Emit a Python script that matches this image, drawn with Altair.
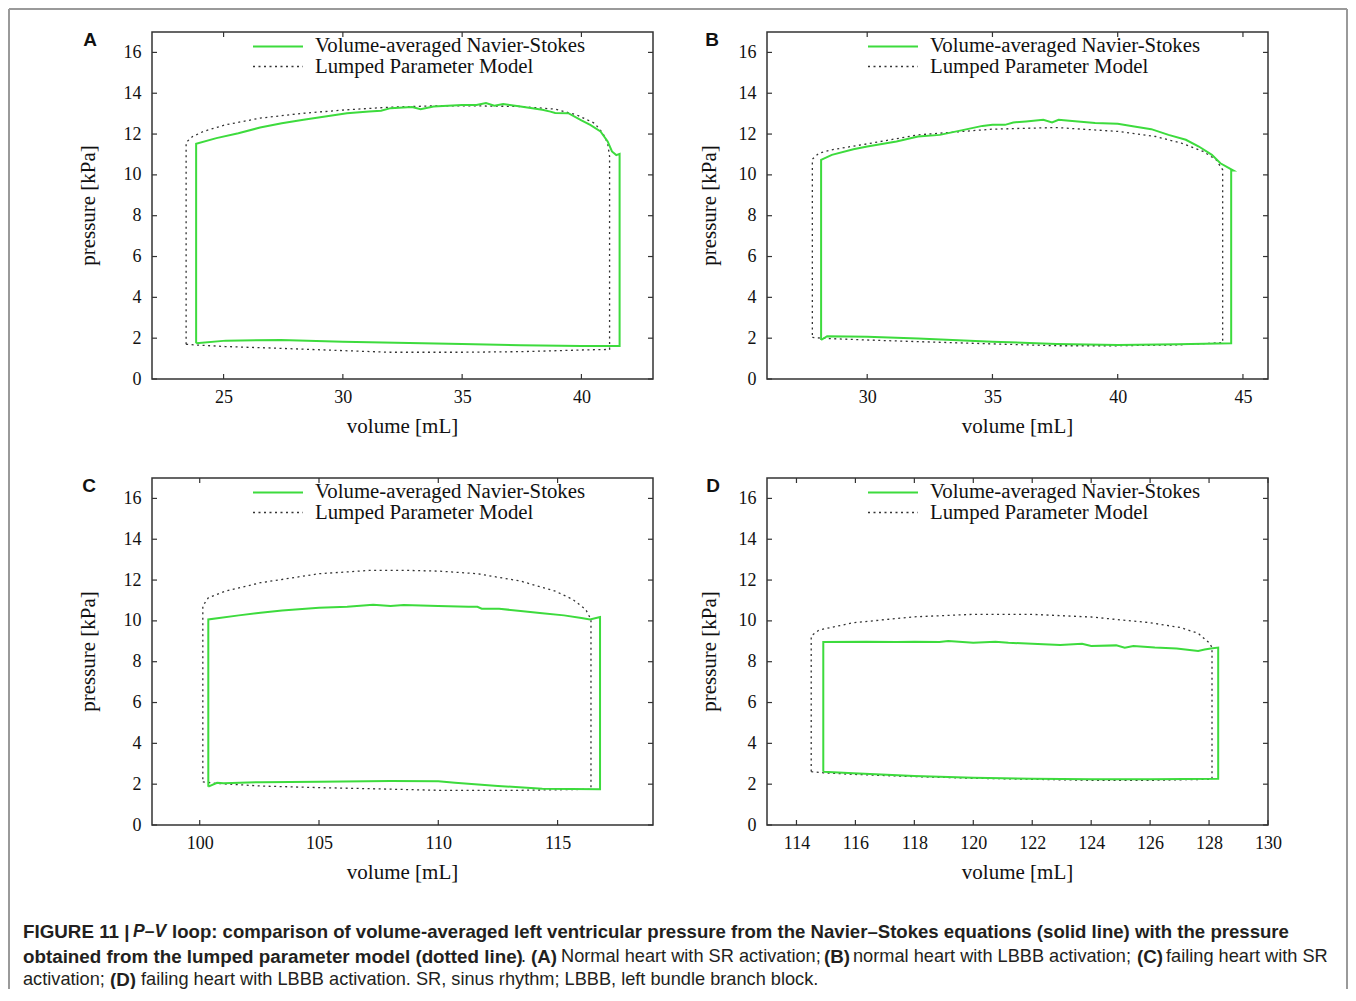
import altair as alt
import pandas as pd

# ---------------- data ----------------
Y_TICKS = [0, 2, 4, 6, 8, 10, 12, 14, 16]
LEGEND_LABELS = ["Volume-averaged Navier-Stokes", "Lumped Parameter Model"]
X_TITLE = "volume [mL]"
Y_TITLE = "pressure [kPa]"

# Panel A: normal heart, SR activation
A_NS_V = [23.85, 25.1, 27.4, 30.0, 35.0, 37.45, 40.0, 41.6, 41.6, 41.46, 41.28, 41.1, 40.8, 40.37, 40.0, 39.45,
          38.9, 38.7, 38.36, 37.45, 36.72, 36.35, 36.0, 35.6, 35.0, 33.8, 33.26, 32.9, 32.0, 31.6, 31.1, 30.17,
          29.26, 28.35, 27.44, 26.53, 25.62, 24.7, 23.85, 23.85]
A_NS_P = [1.75, 1.88, 1.91, 1.83, 1.72, 1.65, 1.62, 1.62, 11.03, 10.97, 11.15, 11.64, 12.13, 12.45, 12.67, 13.02,
          13.03, 13.1, 13.19, 13.35, 13.47, 13.39, 13.52, 13.42, 13.42, 13.35, 13.22, 13.32, 13.27, 13.14, 13.1, 13.02,
          12.86, 12.7, 12.53, 12.32, 12.04, 11.8, 11.52, 1.75]
A_LP_V = [23.43, 23.8, 25.07, 27.44, 30.0, 32.0, 35.0, 37.45, 40.0, 41.18, 41.18, 41.1, 40.9, 40.55, 39.8, 38.9,
          37.45, 35.6, 33.8, 32.0, 30.17, 28.35, 26.53, 25.07, 24.16, 23.7, 23.43, 23.43]
A_LP_P = [1.70, 1.67, 1.59, 1.50, 1.39, 1.31, 1.31, 1.34, 1.42, 1.45, 10.9, 11.55, 12.04, 12.53, 12.94, 13.22,
          13.35, 13.38, 13.38, 13.32, 13.19, 13.02, 12.78, 12.45, 12.13, 11.88, 11.59, 1.70]

# Panel B: normal heart, LBBB activation
B_NS_V = [28.16, 28.4, 30.0, 32.03, 35.0, 37.55, 40.0, 42.38, 44.53, 44.53, 44.62, 44.1, 43.76, 43.24, 42.72, 42.03,
          41.34, 40.66, 40.0, 39.1, 38.07, 37.64, 37.38, 37.03, 36.34, 35.83, 35.5, 35.0, 34.6, 33.76, 32.9, 32.03,
          31.17, 30.0, 29.45, 28.59, 28.16, 28.16]
B_NS_P = [1.91, 2.1, 2.07, 1.99, 1.83, 1.72, 1.67, 1.70, 1.75, 10.21, 10.21, 10.57, 10.98, 11.39, 11.72, 11.96,
          12.24, 12.37, 12.5, 12.54, 12.65, 12.7, 12.57, 12.7, 12.62, 12.57, 12.45, 12.45, 12.4, 12.18, 11.96, 11.88,
          11.64, 11.39, 11.26, 10.98, 10.74, 1.91]
B_LP_V = [27.81, 28.3, 30.0, 32.03, 35.0, 37.55, 40.0, 42.38, 44.19, 44.19, 43.93, 43.41, 42.55, 41.52, 40.0, 37.55,
          35.0, 32.03, 30.0, 28.59, 28.07, 27.81, 27.81]
B_LP_P = [2.04, 1.99, 1.91, 1.83, 1.72, 1.63, 1.63, 1.67, 1.78, 10.25, 10.74, 11.15, 11.55, 11.88, 12.13, 12.32,
          12.24, 11.96, 11.52, 11.23, 11.06, 10.77, 2.04]

# Panel C: failing heart, SR activation
C_NS_V = [100.36, 100.73, 101.0, 102.55, 105.0, 108.0, 110.0, 110.7, 112.5, 114.36, 116.78, 116.78, 116.36, 116.0,
          115.27, 114.36, 113.45, 112.55, 111.82, 111.64, 111.27, 110.0, 108.55, 108.0, 107.27, 106.18, 105.0, 103.45,
          102.55, 101.64, 100.36, 100.36]
C_NS_P = [1.88, 2.07, 2.04, 2.1, 2.12, 2.16, 2.14, 2.07, 1.91, 1.78, 1.75, 10.19, 10.07, 10.14, 10.27, 10.37, 10.48,
          10.6, 10.6, 10.69, 10.69, 10.73, 10.78, 10.73, 10.79, 10.69, 10.64, 10.51, 10.4, 10.27, 10.07, 1.88]
C_LP_V = [100.13, 100.7, 102.55, 105.0, 107.1, 110.0, 113.45, 116.4, 116.4, 116.18, 115.64, 114.9, 113.45, 111.64,
          110.0, 108.9, 107.1, 105.0, 102.55, 101.09, 100.36, 100.13, 100.13]
C_LP_P = [2.11, 2.04, 1.91, 1.83, 1.78, 1.70, 1.70, 1.75, 10.07, 10.56, 11.05, 11.46, 11.95, 12.31, 12.44, 12.47,
          12.47, 12.31, 11.87, 11.46, 11.13, 10.73, 2.11]

# Panel D: failing heart, LBBB activation
D_NS_V = [114.91, 115.93, 118.0, 120.0, 122.0, 124.0, 126.0, 128.31, 128.31, 128.06, 127.85, 127.63, 127.34, 126.9,
          126.16, 125.43, 125.14, 124.85, 124.0, 123.69, 122.95, 122.0, 121.19, 120.75, 120.0, 119.15, 118.85, 118.0,
          117.39, 116.37, 114.91, 114.91]
D_NS_P = [2.61, 2.53, 2.4, 2.32, 2.27, 2.24, 2.24, 2.27, 8.69, 8.65, 8.6, 8.52, 8.57, 8.65, 8.69, 8.77, 8.69, 8.8,
          8.77, 8.88, 8.82, 8.88, 8.93, 8.98, 8.93, 9.01, 8.96, 8.98, 8.96, 8.98, 8.96, 2.61]
D_LP_V = [114.5, 114.91, 115.93, 118.0, 120.0, 122.0, 124.0, 126.0, 128.1, 128.1, 128.0, 127.63, 127.04, 126.0,
          124.0, 122.0, 120.0, 118.0, 115.93, 114.76, 114.5, 114.5]
D_LP_P = [2.61, 2.56, 2.48, 2.37, 2.29, 2.24, 2.19, 2.19, 2.24, 8.7, 8.93, 9.39, 9.67, 9.91, 10.19, 10.32, 10.32,
          10.2, 9.91, 9.55, 9.26, 2.61]

X_DOMAINS = {"A": [22, 43], "B": [26, 46], "C": [98, 119], "D": [113, 130]}
X_TICKS = {"A": [25, 30, 35, 40], "B": [30, 35, 40, 45], "C": [100, 105, 110, 115],
           "D": [114, 116, 118, 120, 122, 124, 126, 128, 130]}

CAPTION = [
    # (line, segment text, weight, style)
    (0, "FIGURE 11 |", "bold", "normal"),
    (0, "P–V", "bold", "italic"),
    (0, "loop: comparison of volume-averaged left ventricular pressure from the Navier–Stokes equations (solid line) with the pressure", "bold", "normal"),
    (1, "obtained from the lumped parameter model (dotted line)", "bold", "normal"),
    (1, ".", "normal", "normal"),
    (1, "(A)", "bold", "normal"),
    (1, "Normal heart with SR activation;", "normal", "normal"),
    (1, "(B)", "bold", "normal"),
    (1, "normal heart with LBBB activation;", "normal", "normal"),
    (1, "(C)", "bold", "normal"),
    (1, "failing heart with SR", "normal", "normal"),
    (2, "activation;", "normal", "normal"),
    (2, "(D)", "bold", "normal"),
    (2, "failing heart with LBBB activation. SR, sinus rhythm; LBBB, left bundle branch block.", "normal", "normal"),
]
# page x where each caption segment starts
CAPTION_X = [23, 133, 172, 23, 521, 531, 561, 824, 853, 1137, 1166, 23, 110, 141]
CAPTION_SIZE = [18.8, 17.5, 18.6, 18.8, 18.2, 18.8, 18.2, 18.8, 18.2, 18.8, 18.2, 18.2, 18.8, 18.2]

# ---------------- style ----------------
W, H = 501, 347
GREEN = "#3ddb3d"
DOT = "#333333"
SERIF = "Liberation Serif"
SANS = "Liberation Sans"
ONE = pd.DataFrame({"k": [0]})


def txt(text, x, y, **kw):
    return alt.Chart(ONE).mark_text(**kw).encode(x=alt.value(x), y=alt.value(y), text=alt.value(text))


def rule(x, x2, y, y2, **kw):
    return alt.Chart(ONE).mark_rule(**kw).encode(x=alt.value(x), x2=alt.value(x2), y=alt.value(y), y2=alt.value(y2))


def panel(key, ns_v, ns_p, lp_v, lp_p, title_dx, label_dx, extra=()):
    ns = pd.DataFrame({"v": ns_v, "p": ns_p, "i": list(range(len(ns_v)))})
    lp = pd.DataFrame({"v": lp_v, "p": lp_p, "i": list(range(len(lp_v)))})
    xs = alt.Scale(domain=X_DOMAINS[key], nice=False, zero=False)
    ys = alt.Scale(domain=[0, 17], nice=False)
    xaxis = alt.Axis(values=X_TICKS[key], ticks=False, domain=False, grid=False, title=None,
                     labelFont=SERIF, labelFontSize=18, labelColor="#111", labelPadding=9,
                     labelFlush=False, format="d")
    yaxis = alt.Axis(values=Y_TICKS, ticks=False, domain=False, grid=False, title=None,
                     labelFont=SERIF, labelFontSize=18, labelColor="#111", labelPadding=11,
                     labelFlush=False, format="d")
    lp_line = alt.Chart(lp).mark_line(color=DOT, strokeWidth=1.3, strokeDash=[2, 3.5]).encode(
        x=alt.X("v:Q", scale=xs, axis=xaxis), y=alt.Y("p:Q", scale=ys, axis=yaxis), order="i:Q")
    ns_line = alt.Chart(ns).mark_line(color=GREEN, strokeWidth=2).encode(
        x="v:Q", y="p:Q", order="i:Q")

    xt = pd.DataFrame({"v": X_TICKS[key]})
    yt = pd.DataFrame({"p": Y_TICKS})
    tk = dict(color="#333", strokeWidth=1.2)
    ticks = [
        alt.Chart(xt).mark_rule(**tk).encode(x="v:Q", y=alt.value(0), y2=alt.value(5)),
        alt.Chart(xt).mark_rule(**tk).encode(x="v:Q", y=alt.value(H - 5), y2=alt.value(H)),
        alt.Chart(yt).mark_rule(**tk).encode(y="p:Q", x=alt.value(0), x2=alt.value(5)),
        alt.Chart(yt).mark_rule(**tk).encode(y="p:Q", x=alt.value(W - 5), x2=alt.value(W)),
    ]
    legend = [
        rule(101, 151, 14.5, 14.5, color=GREEN, strokeWidth=2),
        rule(101, 151, 34.5, 34.5, color=DOT, strokeWidth=1.3, strokeDash=[2, 3.5]),
        txt(LEGEND_LABELS[0], 163, 14, align="left", baseline="middle", font=SERIF, fontSize=20.8, color="#111"),
        txt(LEGEND_LABELS[1], 163, 35, align="left", baseline="middle", font=SERIF, fontSize=20.8, color="#111"),
    ]
    titles = [
        txt(Y_TITLE, title_dx, H / 2, angle=270, align="center", baseline="middle", font=SERIF,
            fontSize=21, color="#111"),
        txt(X_TITLE, W / 2, 395, align="center", baseline="middle", font=SERIF, fontSize=21, color="#111"),
        txt(key, label_dx, 8, align="center", baseline="middle", font=SANS, fontSize=19,
            fontWeight="bold", color="#111"),
    ]
    return alt.layer(lp_line, ns_line, *ticks, *legend, *titles, *extra).properties(width=W, height=H)


# page geometry: svg starts at page (8, 8); plot A origin at page (152, 32)
PAD_L, PAD_T = 144, 24
SVG_W, SVG_H = 1340, 981

# figure border (drawn from panel A, relative to its plot origin)
BORDER = "#9a9a9a"
border = [
    rule(-143, -143, -23, 960, color=BORDER, strokeWidth=2),
    rule(-143, 1195, -23, -23, color=BORDER, strokeWidth=2),
    rule(1195, 1195, -23, 960, color=BORDER, strokeWidth=2),
]

# caption (drawn from panel C, relative to its plot origin at page (152, 478))
LINE_Y = [454, 478.5, 501.5]
caption = []
for (ln, seg, wt, st), px, size in zip(CAPTION, CAPTION_X, CAPTION_SIZE):
    caption.append(txt(seg, px - 152, LINE_Y[ln], align="left", baseline="middle", font=SANS,
                       fontSize=size, fontWeight=wt, fontStyle=st, color="#231f20"))

pA = panel("A", A_NS_V, A_NS_P, A_LP_V, A_LP_P, -63, -62, border)
pB = panel("B", B_NS_V, B_NS_P, B_LP_V, B_LP_P, -57, -55)
pC = panel("C", C_NS_V, C_NS_P, C_LP_V, C_LP_P, -63, -63, caption)
pD = panel("D", D_NS_V, D_NS_P, D_LP_V, D_LP_P, -57, -54)

chart = alt.concat(
    pA, pB, pC, pD, columns=2, spacing=alt.RowColnumber(row=99, column=114),
    bounds="flush", background="white",
    autosize=alt.AutoSizeParams(type="none"),
    padding={"left": PAD_L, "top": PAD_T, "right": SVG_W - PAD_L, "bottom": SVG_H - PAD_T},
).configure_view(stroke="#333", strokeWidth=1.5)

chart.save("out.html", embed_options={"renderer": "svg", "actions": False})
